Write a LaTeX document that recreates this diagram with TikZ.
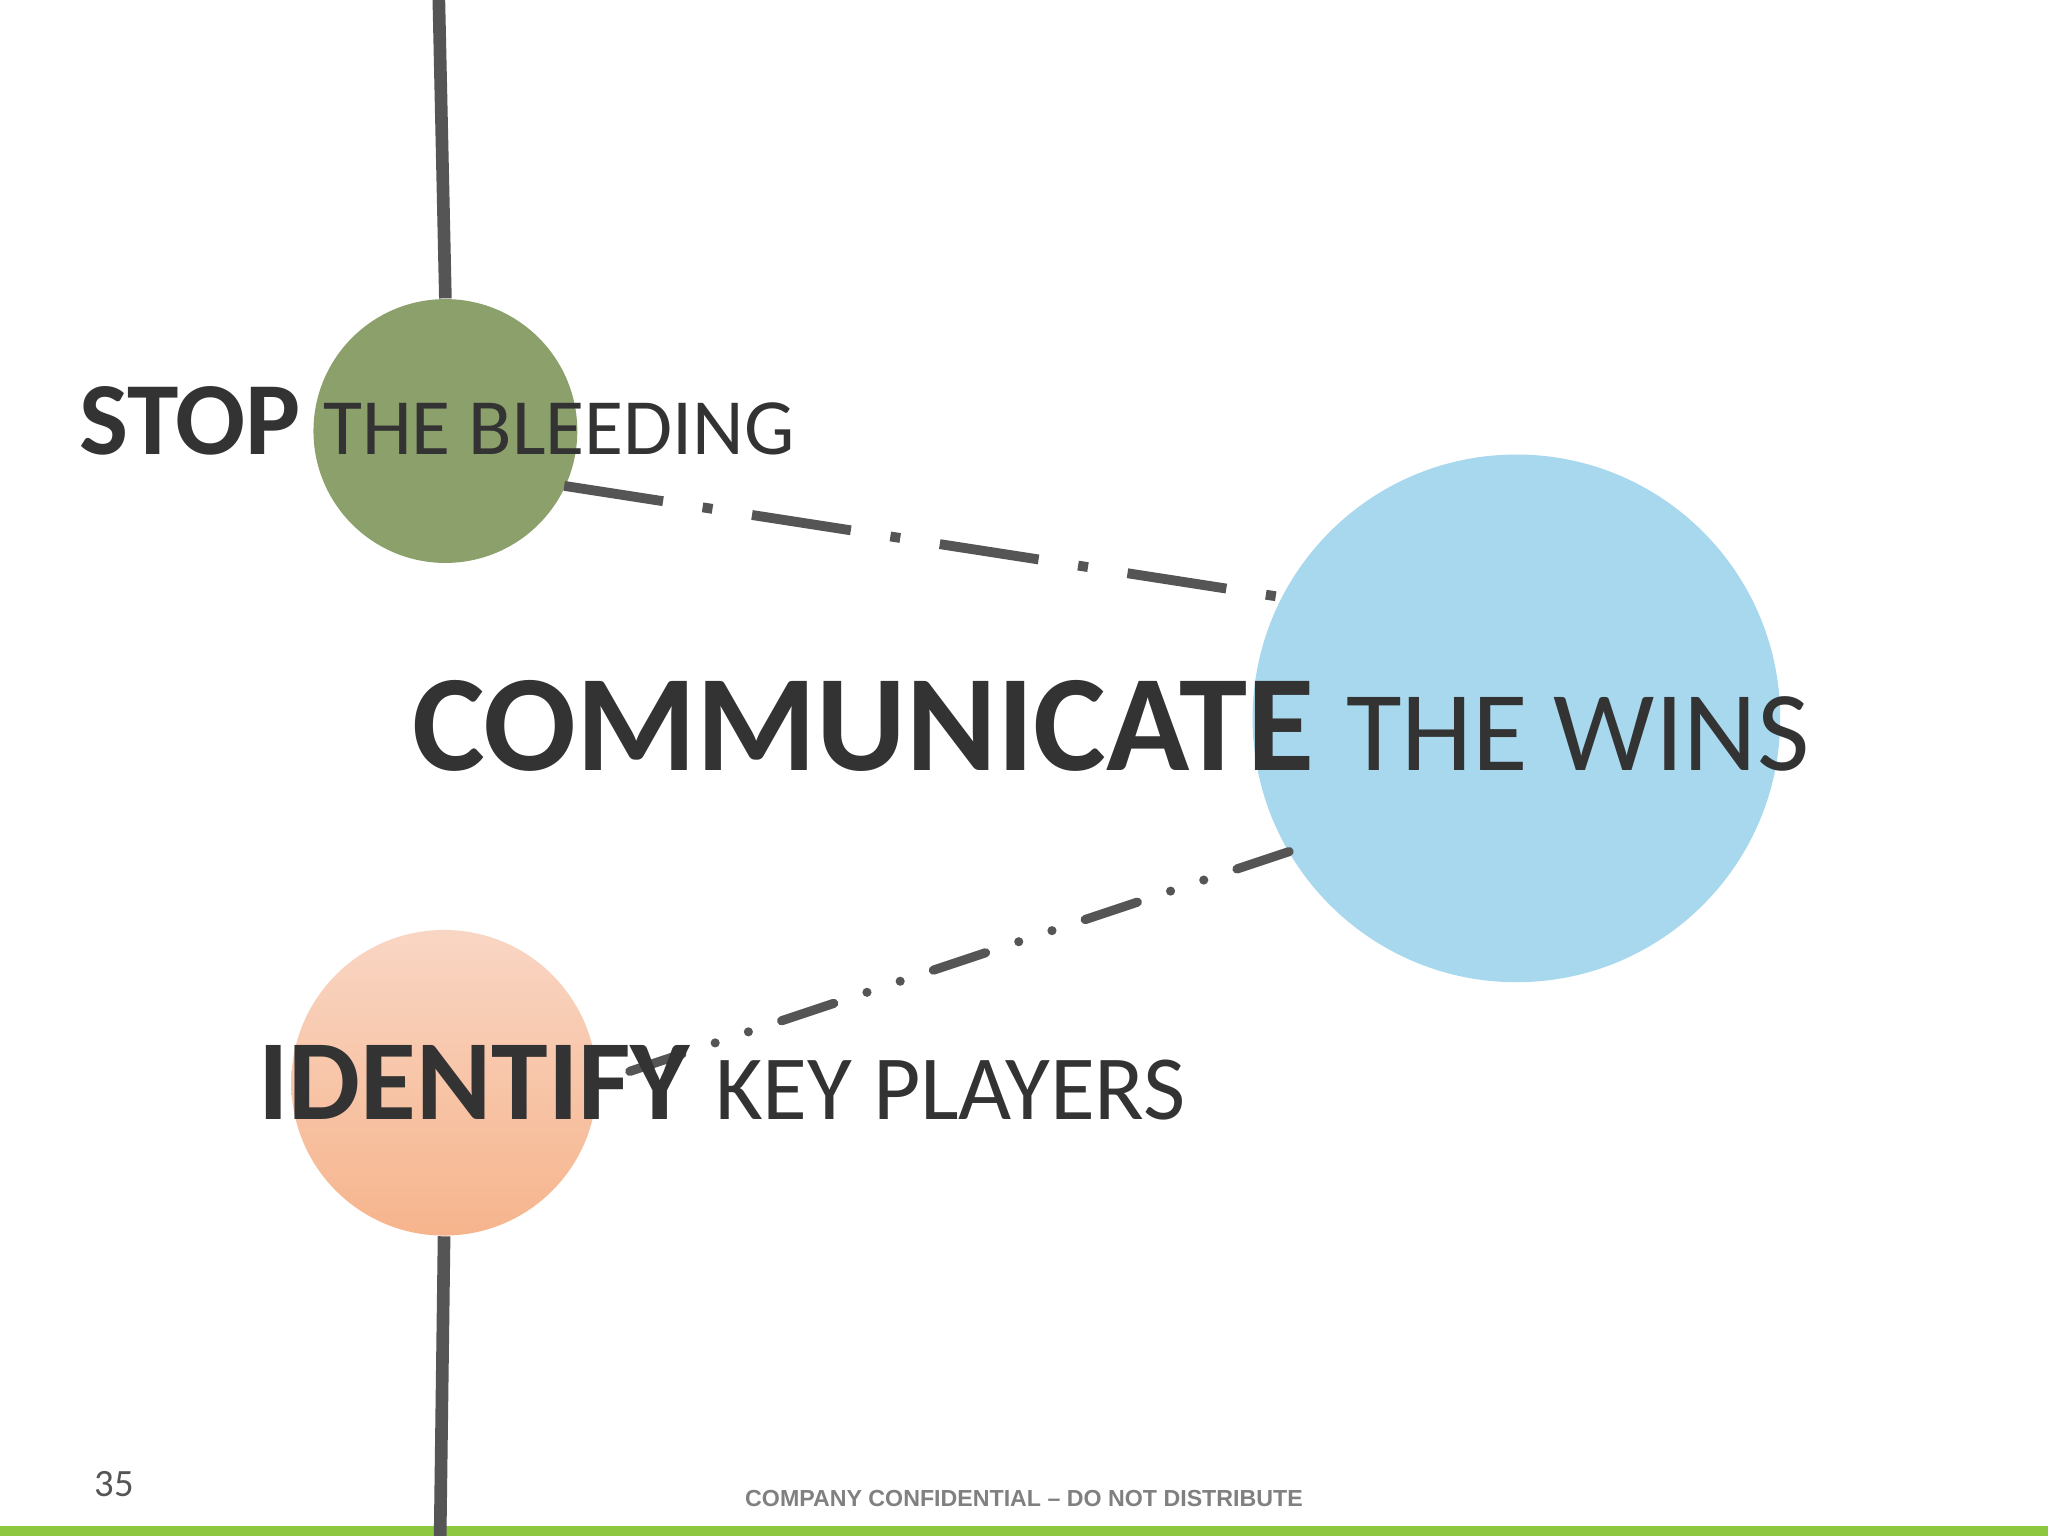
\documentclass[tikz,border=0pt]{standalone}
\usepackage{fontspec}
\setmainfont{Carlito}
\usetikzlibrary{shadings}
\definecolor{tx}{HTML}{333333}
\definecolor{ln}{HTML}{555555}
\definecolor{grn}{HTML}{8BA06A}
\definecolor{blu}{HTML}{A8D8EE}
\definecolor{orT}{HTML}{F9D6C4}
\definecolor{orB}{HTML}{F6B48C}
\definecolor{bar}{HTML}{8DC63F}
\begin{document}
\begin{tikzpicture}[x=0.01306cm,y=-0.01306cm,
  conn/.style={ln,line width=2.8pt},
  bw/.style={anchor=base west,text=tx,inner sep=0pt}]
\useasboundingbox (0,0) rectangle (1568,1176);
\fill[white] (0,0) rectangle (1568,1176);
\fill[bar] (0,1168) rectangle (1568,1176);
% circles
\node[circle,fill=grn,minimum size=202*0.01306cm,inner sep=0] (g) at (341,330) {};
\node[circle,fill=blu,minimum size=404*0.01306cm,inner sep=0] (b) at (1161,550) {};
\node[circle,top color=orT,bottom color=orB,minimum size=234*0.01306cm,inner sep=0] (o) at (340,829) {};
% vertical lines
\coordinate (top) at (336,0);
\coordinate (bot) at (337,1176);
\draw[ln,line width=3.6pt] (top) -- (g.north);
\draw[ln,line width=3.6pt] (o.south) -- (bot);
% connectors
\coordinate (a1) at (432,372);
\coordinate (a2) at (980,457);
\draw[conn,dash pattern=on 1cm off 0.4cm on 0.1cm off 0.4cm] (a1) -- (a2);
\coordinate (c1) at (987,652);
\coordinate (c2) at (468,825);
\draw[conn,line width=2.6pt,line cap=round,dash pattern=on 0.55cm off 0.35cm on 0cm off 0.35cm on 0cm off 0.35cm] (c1) -- (c2);
% texts
\node[bw,font=\bfseries\fontsize{29.5}{30}\selectfont] (t1) at (60,348) {STOP};
\node[bw,font=\fontsize{22.7}{25}\selectfont] (t2) at (247,348) {THE BLEEDING};
\node[bw,font=\bfseries\fontsize{39.1}{38}\selectfont] (t3) at (315,590) {COMMUNICATE};
\node[bw,font=\fontsize{32.4}{33}\selectfont] (t4) at (1030,590) {THE WINS};
\node[bw,font=\bfseries\fontsize{32.5}{34}\selectfont] (t5) at (197,857) {IDENTIFY};
\node[bw,font=\fontsize{26.1}{29}\selectfont] (t6) at (547,857) {KEY PLAYERS};
\node[bw,font=\fontsize{11}{11}\selectfont,text=ln] (pg) at (72,1146) {35};
\node[inner sep=0,text=gray] (ft) at (784,1147) {\fontspec{Liberation Sans}\bfseries\fontsize{6.6}{7}\selectfont COMPANY CONFIDENTIAL – DO NOT DISTRIBUTE};
\end{tikzpicture}
\end{document}
